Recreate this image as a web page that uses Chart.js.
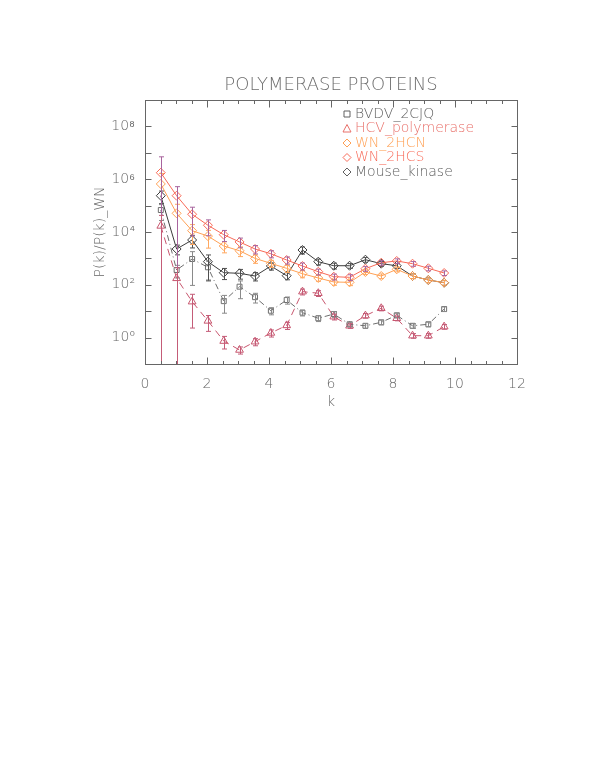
<!DOCTYPE html>
<html>
<head>
<meta charset="utf-8">
<script src="https://cdn.jsdelivr.net/npm/chart.js@4.4.1/dist/chart.umd.min.js"></script>
<style>
  html, body { margin: 0; padding: 0; background: #fff; }
  #wrap { position: absolute; left: 0; top: 0; width: 599px; height: 776px; }
</style>
</head>
<body>
<div id="wrap"><canvas id="chart" width="599" height="776"></canvas></div>
<script>
// valores de k (eje x)
const kValues = [0.51, 1.02, 1.52, 2.03, 2.54, 3.05, 3.55, 4.06, 4.57, 5.08, 5.59, 6.09, 6.60, 7.11, 7.62, 8.12, 8.63, 9.14, 9.65];

// P(k)/P(k)_WN por proteína
const bvdv  = [6.8e4, 364, 948, 460, 24, 85, 34, 10.4, 26.5, 8.8, 5.4, 7.8, 3.2, 2.8, 3.8, 7.0, 2.8, 3.2, 12.1];
const hcv   = [1.7e4, 176, 23, 4.3, 0.74, 0.34, 0.70, 1.5, 2.9, 55, 48, 6.2, 2.8, 6.8, 12.9, 5.4, 1.18, 1.18, 2.6];
const hcn   = [6.6e5, 5.1e4, 1.12e4, 7.0e3, 2.95e3, 1.95e3, 1.0e3, 650, 420, 263, 181, 128, 124, 305, 215, 386, 215, 152, 120];
const hcs   = [1.76e6, 2.37e5, 4.7e4, 1.8e4, 7.9e3, 4.2e3, 2.27e3, 1.5e3, 870, 515, 313, 203, 192, 407, 687, 800, 630, 422, 280];
const mouse = [2.37e5, 2.27e3, 4.98e3, 750, 287, 273, 215, 515, 221, 2.08e3, 750, 528, 528, 893, 630, 528, 215, 152, 120];

// errores relativos (fracción del valor)
const bvdvErr  = [0.6, 0.5, 0.9, 0.7, 0.65, 0.65, 0.4, 0.3, 0.3, 0.25, 0.25, 0.25, 0.2, 0.2, 0.2, 0.2, 0.2, 0.2, 0.2];
const hcvErr   = [1.5, 1.5, 0.9, 0.6, 0.5, 0.3, 0.3, 0.3, 0.3, 0.25, 0.25, 0.25, 0.2, 0.2, 0.2, 0.2, 0.2, 0.2, 0.2];
const hcnErr   = [1.5, 1.2, 0.7, 0.65, 0.45, 0.4, 0.35, 0.3, 0.3, 0.3, 0.25, 0.25, 0.25, 0.2, 0.2, 0.2, 0.2, 0.2, 0.2];
const hcsErr   = [3.0, 1.2, 0.85, 0.6, 0.45, 0.4, 0.35, 0.3, 0.3, 0.3, 0.25, 0.25, 0.25, 0.2, 0.2, 0.2, 0.2, 0.2, 0.2];
const mouseErr = [0.5, 0.4, 0.5, 0.8, 0.45, 0.4, 0.35, 0.3, 0.3, 0.3, 0.25, 0.25, 0.2, 0.2, 0.2, 0.2, 0.2, 0.2, 0.2];

const seriesNames = ['BVDV_2CJQ', 'HCV_polymerase', 'WN_2HCN', 'WN_2HCS', 'Mouse_kinase'];
const titleText = 'POLYMERASE PROTEINS';
const xTitle = 'k';
const yTitle = 'P(k)/P(k)_WN';

const FONT = '"DejaVu Sans", sans-serif';
const AXIS_COLOR = '#666666';

function toPoints(ys) {
    return kValues.map((k, i) => ({ x: k, y: ys[i] }));
}

const series = [
    { data: bvdv,  err: bvdvErr,  color: '#6e6e6e', text: '#606060', errColor: '#8a8a8a', style: 'rect',     radius: 3.5, dash: [6, 3, 1, 3] },
    { data: hcv,   err: hcvErr,   color: '#c8566e', text: '#e8706a', errColor: '#c45c78', style: 'triangle', radius: 4.5, dash: [7, 5] },
    { data: hcn,   err: hcnErr,   color: '#ffa054', text: '#ffa054', errColor: '#ffa860', style: 'rectRot',  radius: 4.5, dash: [] },
    { data: hcs,   err: hcsErr,   color: '#f86a58', text: '#f86a58', errColor: '#a8649e', style: 'rectRot',  radius: 4.5, dash: [] },
    { data: mouse, err: mouseErr, color: '#3c3c3c', text: '#606060', errColor: '#505050', style: 'rectRot',  radius: 4.5, dash: [] }
];
// orden de dibujo de las barras de error
const errOrder = [0, 4, 2, 3, 1];

const supDigits = { '-': '⁻', '0': '⁰', '1': '¹', '2': '²', '3': '³', '4': '⁴', '5': '⁵', '6': '⁶', '7': '⁷', '8': '⁸', '9': '⁹' };
function sup(n) {
    return String(n).split('').map(c => supDigits[c]).join('');
}

// símbolo de la leyenda, trazado a mano
function legendSymbol(ctx, style, x, y) {
    ctx.beginPath();
    if (style === 'rect') {
        ctx.rect(x - 3, y - 3, 6, 6);
    } else if (style === 'triangle') {
        ctx.moveTo(x - 4, y + 3.5);
        ctx.lineTo(x, y - 4);
        ctx.lineTo(x + 4, y + 3.5);
        ctx.closePath();
    } else {
        ctx.moveTo(x, y - 4);
        ctx.lineTo(x + 4, y);
        ctx.lineTo(x, y + 4);
        ctx.lineTo(x - 4, y);
        ctx.closePath();
    }
    ctx.stroke();
}

// barras de error, marco, marcas interiores, título y leyenda
const decorPlugin = {
    id: 'decor',
    afterDatasetsDraw(chart) {
        const ctx = chart.ctx;
        const xs = chart.scales.x, ys = chart.scales.y;
        const area = chart.chartArea;
        ctx.save();
        ctx.lineWidth = 1;
        errOrder.forEach(idx => {
            const s = series[idx];
            ctx.strokeStyle = s.errColor;
            s.data.forEach((v, i) => {
                const e = v * s.err[i];
                const hi = v + e, lo = v - e;
                const px = Math.round(xs.getPixelForValue(kValues[i])) + 0.5;
                let yHi = ys.getPixelForValue(hi);
                let yLo = lo > 0 ? ys.getPixelForValue(lo) : area.bottom;
                yHi = Math.max(yHi, area.top);
                yLo = Math.min(yLo, area.bottom);
                ctx.beginPath();
                ctx.moveTo(px, yHi);
                ctx.lineTo(px, yLo);
                if (yHi > area.top) { ctx.moveTo(px - 2.5, yHi); ctx.lineTo(px + 2.5, yHi); }
                if (yLo < area.bottom) { ctx.moveTo(px - 2.5, yLo); ctx.lineTo(px + 2.5, yLo); }
                ctx.stroke();
            });
        });
        ctx.restore();
    },
    afterDraw(chart) {
        const ctx = chart.ctx;
        const xs = chart.scales.x, ys = chart.scales.y;
        const a = chart.chartArea;
        ctx.save();
        ctx.strokeStyle = AXIS_COLOR;
        ctx.lineWidth = 1;
        const L = Math.round(a.left) + 0.5, R = Math.round(a.right) + 0.5;
        const T = Math.round(a.top) + 0.5, B = Math.round(a.bottom) + 0.5;
        ctx.strokeRect(L, T, R - L, B - T);

        ctx.beginPath();
        for (let k = 0; k <= 12; k += 0.5) {
            const px = Math.round(xs.getPixelForValue(k)) + 0.5;
            const len = (k % 2 === 0) ? 7 : 3.5;
            ctx.moveTo(px, B); ctx.lineTo(px, B - len);
            ctx.moveTo(px, T); ctx.lineTo(px, T + len);
        }
        for (let e = -1; e <= 9; e++) {
            const py = Math.round(ys.getPixelForValue(Math.pow(10, e))) + 0.5;
            ctx.moveTo(L, py); ctx.lineTo(L + 6, py);
            ctx.moveTo(R, py); ctx.lineTo(R - 6, py);
        }
        ctx.stroke();

        // título
        ctx.fillStyle = '#6e6e6e';
        ctx.font = '200 18px ' + FONT;
        ctx.textAlign = 'center';
        ctx.textBaseline = 'alphabetic';
        ctx.fillText(titleText, (a.left + a.right) / 2, 90);

        // leyenda
        ctx.font = '200 14px ' + FONT;
        ctx.textAlign = 'left';
        ctx.textBaseline = 'middle';
        ctx.lineWidth = 1;
        series.forEach((s, i) => {
            const y = 114 + i * 14.5;
            ctx.strokeStyle = s.text;
            legendSymbol(ctx, s.style, 347, y);
            ctx.fillStyle = s.text;
            ctx.fillText(seriesNames[i], 355, y);
        });
        ctx.restore();
    }
};

const datasets = series.map((s, i) => ({
    label: seriesNames[i],
    data: toPoints(s.data),
    borderColor: s.color,
    backgroundColor: 'rgba(0,0,0,0)',
    borderWidth: 1,
    borderDash: s.dash,
    pointStyle: s.style,
    pointRadius: s.radius,
    pointBorderColor: s.color,
    pointBackgroundColor: 'rgba(0,0,0,0)',
    pointBorderWidth: 1,
    tension: 0
}));

new Chart(document.getElementById('chart').getContext('2d'), {
    type: 'line',
    data: { datasets },
    options: {
        responsive: false,
        animation: false,
        events: [],
        layout: { padding: { top: 100, right: 82, bottom: 362, left: 88 } },
        plugins: { legend: { display: false }, tooltip: { enabled: false }, title: { display: false } },
        scales: {
            x: {
                type: 'linear',
                min: 0,
                max: 12,
                afterFit: s => { s.height = 50; },
                grid: { display: false },
                border: { display: false },
                ticks: { stepSize: 2, padding: 4, color: AXIS_COLOR, font: { family: FONT, size: 14, weight: 200 } },
                title: { display: true, text: xTitle, color: AXIS_COLOR, padding: { top: 0, bottom: 3 }, font: { family: FONT, size: 14, weight: 200 } }
            },
            y: {
                type: 'logarithmic',
                min: 0.1,
                max: 1e9,
                afterFit: s => { s.width = 57; },
                afterBuildTicks: s => {
                    const t = [];
                    for (let e = -1; e <= 9; e++) t.push({ value: Math.pow(10, e) });
                    s.ticks = t;
                },
                grid: { display: false },
                border: { display: false },
                ticks: {
                    autoSkip: false,
                    padding: 2,
                    color: AXIS_COLOR,
                    font: { family: FONT, size: 14, weight: 200 },
                    callback: v => {
                        const e = Math.round(Math.log10(v));
                        return (e >= 0 && e % 2 === 0) ? '10' + sup(e) : '';
                    }
                },
                title: { display: true, text: yTitle, color: AXIS_COLOR, font: { family: FONT, size: 14, weight: 200 } }
            }
        }
    },
    plugins: [decorPlugin]
});
</script>
</body>
</html>
